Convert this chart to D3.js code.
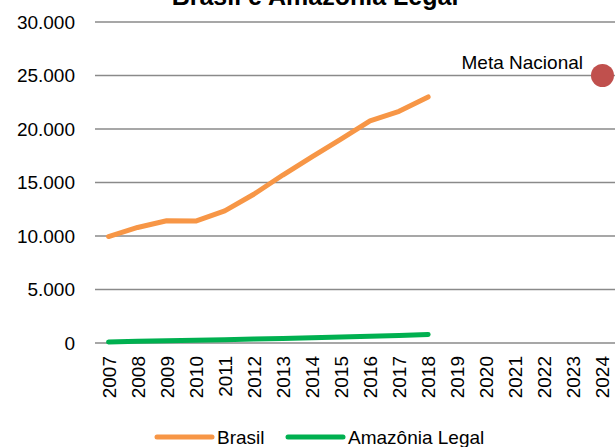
<!DOCTYPE html>
<html>
<head>
<meta charset="utf-8">
<script src="https://cdn.jsdelivr.net/npm/d3@7"></script>
<style>
  body { margin: 0; background: #fff; }
  svg { font-family: "Liberation Sans", Arial, sans-serif; }
</style>
</head>
<body>
<svg id="chart" width="615" height="447"></svg>
<script>
const years = ["2007","2008","2009","2010","2011","2012","2013","2014","2015","2016","2017","2018",
               "2019","2020","2021","2022","2023","2024"];
const brasil = [9950, 10800, 11420, 11400, 12350, 13900, 15700, 17400, 19050, 20750, 21650, 23000];
const amazonia = [100, 160, 210, 260, 310, 370, 430, 490, 560, 630, 700, 800];
const metaYear = "2024";
const metaValue = 25000;
const yTicks = [0, 5000, 10000, 15000, 20000, 25000, 30000];
const seriesNames = ["Brasil", "Amazônia Legal"];
const colors = ["#F79646", "#00B050"];

const svg = d3.select("#chart");
const width = 615, height = 447;

const x = d3.scalePoint().domain(years).range([94, 617]).padding(0.5);
const y = d3.scaleLinear().domain([0, 30000]).range([343, 22]);

// title (cut by the top edge like the original)
svg.append("text")
  .attr("x", 315).attr("y", 5)
  .attr("text-anchor", "middle")
  .style("font-size", "25px").style("font-weight", "bold")
  .text("Brasil e Amazônia Legal");

// gridlines
svg.append("g")
  .selectAll("line")
  .data(yTicks)
  .join("line")
  .attr("x1", 95).attr("x2", width)
  .attr("y1", d => y(d)).attr("y2", d => y(d))
  .attr("stroke", "#8a8a8a").attr("stroke-width", 1.5);

// y labels
const fmt = d => d3.format(",")(d).replace(/,/g, ".");
svg.append("g")
  .selectAll("text")
  .data(yTicks)
  .join("text")
  .attr("x", 75).attr("y", d => y(d))
  .attr("dy", "0.35em")
  .attr("text-anchor", "end")
  .style("font-size", "19px").attr("fill", "#000")
  .text(fmt);

// x labels rotated
svg.append("g")
  .selectAll("text")
  .data(years)
  .join("text")
  .attr("transform", d => `translate(${x(d) + 7},356) rotate(-90)`)
  .attr("text-anchor", "end")
  .style("font-size", "19px").attr("fill", "#000")
  .text(d => d);

// lines
const line = d3.line()
  .x((d, i) => x(years[i]))
  .y(d => y(d));

[brasil, amazonia].forEach((s, i) => {
  svg.append("path")
    .datum(s)
    .attr("d", line)
    .attr("fill", "none")
    .attr("stroke", colors[i])
    .attr("stroke-width", 5)
    .attr("stroke-linejoin", "round")
    .attr("stroke-linecap", "round");
});

// meta nacional
svg.append("circle")
  .attr("cx", x(metaYear)).attr("cy", y(metaValue))
  .attr("r", 11.5)
  .attr("fill", "#C0504D");
svg.append("text")
  .attr("x", 583).attr("y", y(metaValue) - 7)
  .attr("text-anchor", "end")
  .style("font-size", "19px")
  .text("Meta Nacional");

// legend
const legendX = [157, 288];
const legend = svg.append("g");
seriesNames.forEach((name, i) => {
  legend.append("line")
    .attr("x1", legendX[i]).attr("x2", legendX[i] + 55)
    .attr("y1", 437).attr("y2", 437)
    .attr("stroke", colors[i]).attr("stroke-width", 5)
    .attr("stroke-linecap", "round");
  legend.append("text")
    .attr("x", legendX[i] + 60).attr("y", 437)
    .attr("dy", "0.35em")
    .style("font-size", "19px")
    .text(name);
});
</script>
</body>
</html>
